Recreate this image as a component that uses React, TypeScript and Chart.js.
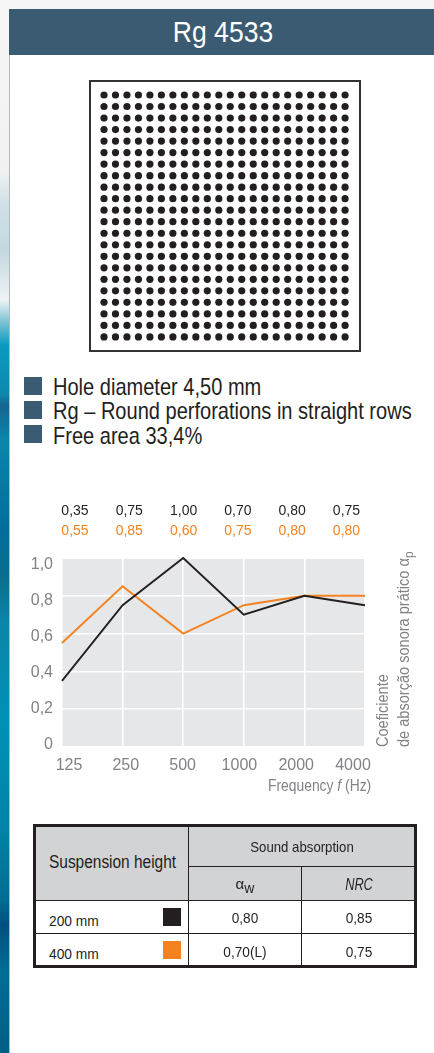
import React, { useEffect, useRef } from "react";
import { Chart, registerables } from "chart.js";

Chart.register(...registerables);

const frequencies = ["125", "250", "500", "1000", "2000", "4000"];
const height200 = [0.35, 0.75, 1.0, 0.7, 0.8, 0.75];
const height400 = [0.55, 0.85, 0.6, 0.75, 0.8, 0.8];
const yLabels = ["0", "0,2", "0,4", "0,6", "0,8", "1,0"];
const yLabelValues = [0, 0.2, 0.4, 0.6, 0.8, 1.0];
const bullets = ["Hole diameter 4,50 mm", "Rg – Round perforations in straight rows", "Free area 33,4%"];
const tableRows = [
  { name: "200 mm", color: "#231f20", aw: "0,80", nrc: "0,85" },
  { name: "400 mm", color: "#f58220", aw: "0,70(L)", nrc: "0,75" },
];

const BLUE = "#3a5b71";
const INK = "#231f20";
const ORANGE = "#f58220";
const GREY = "#808285";
const FONT = '"Liberation Sans", sans-serif';
const holes = Array.from({ length: 22 }, (_, i) => i);

const fmt = (v: number) => v.toFixed(2).replace(".", ",");

function Txt({ x, y, size, color = INK, align = "left", sx = 1, italic = false, children }: any) {
  const tx = align === "center" ? "-50%" : "0";
  return (
    <div
      style={{
        position: "absolute", left: x, top: y,
        transform: `translate(${tx},-50%) scaleX(${sx})`,
        transformOrigin: align === "center" ? "center center" : "left center",
        font: `${italic ? "italic " : ""}${size}px ${FONT}`, color, whiteSpace: "nowrap", lineHeight: 1,
      }}
    >
      {children}
    </div>
  );
}

const fixH = (h: number) => (s: any) => { s.height = h; };
const fixW = (w: number) => (s: any) => { s.width = w; };

function auxX(position: string, min: number, max: number, labels: string[], color: string, size: number, height: number, padding: number, weight: number) {
  return {
    type: "linear", position, min, max, weight,
    afterBuildTicks: (s: any) => { s.ticks = labels.map((_, i) => ({ value: i })); },
    afterFit: fixH(height),
    grid: { display: false, drawTicks: false },
    border: { display: false },
    ticks: {
      autoSkip: false, maxRotation: 0, color, padding,
      font: { family: FONT, size },
      callback: (_: any, i: number) => labels[i],
    },
  };
}

const plotBackground = {
  id: "plotBackground",
  beforeDraw(chart: any) {
    const { ctx, chartArea: a } = chart;
    ctx.save();
    ctx.fillStyle = "#e6e7e8";
    ctx.fillRect(a.left, a.top + 1, a.right - a.left, a.bottom - a.top - 1);
    ctx.restore();
  },
};

function App() {
  const ref = useRef<HTMLCanvasElement>(null);
  useEffect(() => {
    const chart = new Chart(ref.current!, {
      type: "line",
      plugins: [plotBackground],
      data: {
        labels: frequencies,
        datasets: [
          { label: "200 mm", data: height200, borderColor: INK, borderWidth: 1.9, pointRadius: 0, tension: 0, clip: false, xAxisID: "x", yAxisID: "y" },
          { label: "400 mm", data: height400, borderColor: ORANGE, borderWidth: 1.9, pointRadius: 0, tension: 0, clip: false, xAxisID: "x", yAxisID: "y" },
        ],
      } as any,
      options: {
        animation: false,
        responsive: false,
        layout: { padding: { left: 0, right: 69, top: 0, bottom: 0 } },
        plugins: { legend: { display: false }, tooltip: { enabled: false }, title: { display: false } },
        scales: {
          x: {
            type: "category", offset: false, position: "bottom", weight: 0,
            afterFit: fixH(0),
            grid: { color: "#ffffff", lineWidth: 1.6, drawTicks: false, offset: false },
            border: { display: false },
            ticks: { display: false },
          },
          y: {
            type: "linear", min: 0, max: 1, position: "left", weight: 0,
            afterFit: fixW(0),
            grid: { color: "#ffffff", lineWidth: 1.6, drawTicks: false },
            border: { display: false },
            ticks: { display: false, stepSize: 0.2 },
          },
          xLabels: auxX("bottom", -0.1232, 5.211, frequencies, GREY, 16, 33, 9, 1),
          topOrange: auxX("top", -0.239, 5.341, height400.map(fmt), ORANGE, 14, 38, 18, 1),
          topBlack: auxX("top", -0.239, 5.341, height200.map(fmt), INK, 14, 30, 0, 2),
          yLabels: {
            type: "linear", position: "left", min: -0.0111, max: 1.0389, weight: 1,
            afterBuildTicks: (s: any) => { s.ticks = yLabelValues.map((v) => ({ value: v })); },
            afterFit: fixW(62),
            grid: { display: false, drawTicks: false },
            border: { display: false },
            ticks: {
              color: GREY, padding: 9, autoSkip: false,
              font: { family: FONT, size: 16 },
              callback: (_: any, i: number) => yLabels[i],
            },
          },
        },
      } as any,
    });
    return () => chart.destroy();
  }, []);

  const stripe =
    "linear-gradient(to bottom,#f6f6f6 0,#f1f1f1 170px,#cfe0e6 205px,#c4d8e0 250px,#eef3f5 300px,#7cc2d4 322px,#0b9abf 345px,#0d88ae 395px,#16648f 405px,#0b86ab 440px,#006d9b 530px,#0b6f8c 580px,#0b85a8 620px,#0091b6 720px,#0083a6 830px,#006d91 900px,#00507f 925px,#006d95 970px,#005f85 1053px)";

  return (
    <div style={{ position: "absolute", left: 0, top: 0, width: 434, height: 1053, background: "#fff", overflow: "hidden" }}>
      <div style={{ position: "absolute", left: 0, top: 0, width: 9, height: 1053, background: stripe }} />
      <div style={{ position: "absolute", left: 0, top: 0, width: 434, height: 9, background: "#f5f5f5" }} />
      <div style={{ position: "absolute", left: 9, top: 9, width: 1, height: 1044, background: "#b4b8ba" }} />
      <div style={{ position: "absolute", left: 9, top: 9, width: 425, height: 46, background: BLUE }} />
      <Txt x={223} y={32} size={30} color="#fff" align="center" sx={0.885}>Rg 4533</Txt>

      <svg style={{ position: "absolute", left: 89, top: 80 }} width={272} height={272}>
        <rect x={1} y={1} width={270} height={270} fill="#fff" stroke="#333" strokeWidth={2} />
        {holes.map((r) => holes.map((c) => (
          <circle key={`${r}-${c}`} cx={15 + c * 11.48} cy={15 + r * 11.52} r={3.6} fill={INK} />
        )))}
      </svg>

      {bullets.map((b, i) => (
        <React.Fragment key={b}>
          <div style={{ position: "absolute", left: 24, top: 377 + i * 24, width: 18, height: 18, background: BLUE }} />
          <Txt x={53} y={387 + i * 24.3} size={24} sx={0.835}>{b}</Txt>
        </React.Fragment>
      ))}

      <canvas ref={ref} width={434} height={290} style={{ position: "absolute", left: 0, top: 490, width: 434, height: 290 }} />

      <Txt x={268} y={786} size={16} color={GREY} sx={0.866}>
        Frequency <i>f</i> (Hz)
      </Txt>
      <div style={{ position: "absolute", left: 372, top: 747, transformOrigin: "0 0", transform: "rotate(-90deg) scaleX(0.91)", font: `16px/21px ${FONT}`, color: GREY, whiteSpace: "nowrap" }}>
        Coeficiente<br />de absorção sonora prático α<sub style={{ fontSize: 13, lineHeight: 0 }}>p</sub>
      </div>

      <div style={{ position: "absolute", left: 33, top: 824, width: 384, height: 144, boxSizing: "border-box", border: `3px solid ${INK}`, background: "#fff" }} />
      <div style={{ position: "absolute", left: 36, top: 827, width: 378, height: 73, background: "#d1d3d4" }} />
      <div style={{ position: "absolute", left: 188, top: 827, width: 1, height: 138, background: INK }} />
      <div style={{ position: "absolute", left: 301, top: 866, width: 1, height: 99, background: INK }} />
      <div style={{ position: "absolute", left: 188, top: 866, width: 226, height: 1, background: INK }} />
      <div style={{ position: "absolute", left: 36, top: 900, width: 378, height: 1, background: INK }} />
      <div style={{ position: "absolute", left: 36, top: 933, width: 378, height: 1, background: INK }} />

      <Txt x={49} y={862} size={18} sx={0.858}>Suspension height</Txt>
      <Txt x={301.5} y={846} size={15} align="center" sx={0.88}>Sound absorption</Txt>
      <Txt x={245} y={883} size={15} align="center">α<sub style={{ fontSize: 14, lineHeight: 0 }}>w</sub></Txt>
      <Txt x={359} y={885} size={16} align="center" italic sx={0.8}>NRC</Txt>
      {tableRows.map((row, i) => (
        <React.Fragment key={row.name}>
          <Txt x={49} y={920 + i * 33} size={15} sx={0.92}>{row.name}</Txt>
          <div style={{ position: "absolute", left: 163, top: 908 + i * 33, width: 18, height: 18, background: row.color }} />
          <Txt x={245} y={917 + i * 33.5} size={15} align="center" sx={0.91}>{row.aw}</Txt>
          <Txt x={358.5} y={917 + i * 33.5} size={15} align="center" sx={0.91}>{row.nrc}</Txt>
        </React.Fragment>
      ))}
    </div>
  );
}

export default App;
